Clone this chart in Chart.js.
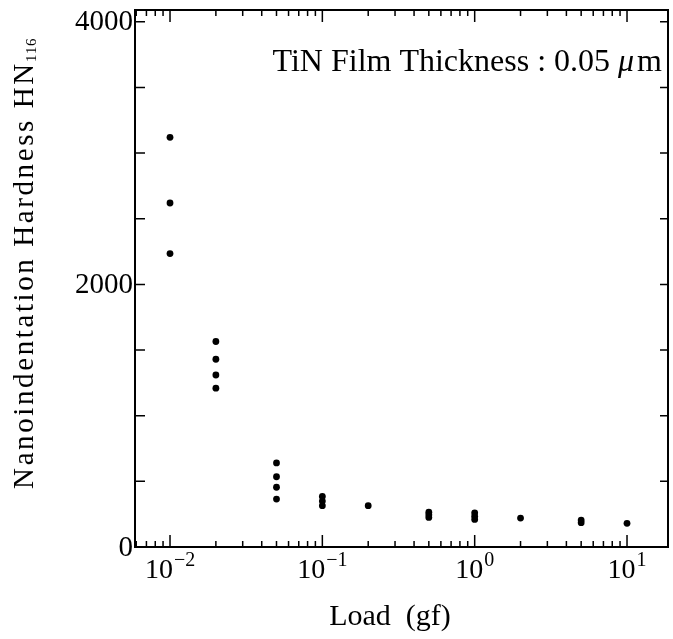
<!DOCTYPE html>
<html>
<head>
<meta charset="utf-8">
<script src="https://cdn.jsdelivr.net/npm/chart.js@4/dist/chart.umd.min.js"></script>
<style>
  html, body { margin: 0; padding: 0; background: #fff; }
</style>
</head>
<body>
<canvas id="myChart" width="673" height="639"></canvas>
<script>
// load (gf) and measured hardness, one entry per dot
const loads = [
  0.01, 0.01, 0.01,
  0.02, 0.02, 0.02, 0.02,
  0.05, 0.05, 0.05, 0.05,
  0.1, 0.1, 0.1,
  0.2,
  0.5, 0.5, 0.5,
  1, 1, 1,
  2,
  5, 5,
  10,
];
const hardness = [
  3120, 2620, 2235,
  1565, 1430, 1310, 1210,
  640, 535, 455, 365,
  385, 350, 315,
  315,
  265, 245, 225,
  260, 235, 210,
  220,
  205, 185,
  180,
];

const yTickLabels = [0, 2000, 4000];
const yMinorStep = 500;
const xDecades = [-2, -1, 0, 1];

const titleMain = "TiN Film Thickness : 0.05 ";
const titleMu = "\u03bc";
const titleUnit = "m";
const xTitle = "Load  (gf)";
const yTitle = "Nanoindentation Hardness HN";
const yTitleSub = "116";

const serif = '"Liberation Serif", "Times New Roman", serif';

// draws a string char by char with extra spacing, returns the end x
function spacedText(ctx, text, x, y, gap) {
  for (const ch of text) {
    ctx.fillText(ch, x, y);
    x += ctx.measureText(ch).width + gap;
  }
  return x;
}

function spacedWidth(ctx, text, gap) {
  let w = 0;
  for (const ch of text) w += ctx.measureText(ch).width + gap;
  return w;
}

const axesDecor = {
  id: "axesDecor",
  afterDraw(chart) {
    const { ctx, chartArea: a, scales: { x, y } } = chart;
    ctx.save();
    ctx.strokeStyle = "#000";
    ctx.fillStyle = "#000";

    // frame
    ctx.lineWidth = 2;
    ctx.strokeRect(a.left, a.top, a.right - a.left, a.bottom - a.top);

    // tick marks, pointing inward
    ctx.lineWidth = 1.5;
    ctx.beginPath();
    for (let d = -3; d <= 2; d++) {
      for (let m = 1; m <= 9; m++) {
        const v = m * Math.pow(10, d);
        if (v < x.min || v > x.max) continue;
        const px = x.getPixelForValue(v);
        const len = m === 1 ? 12 : 6;
        ctx.moveTo(px, a.bottom);
        ctx.lineTo(px, a.bottom - len);
        ctx.moveTo(px, a.top);
        ctx.lineTo(px, a.top + len);
      }
    }
    for (let v = 0; v <= y.max; v += yMinorStep) {
      const py = y.getPixelForValue(v);
      ctx.moveTo(a.left, py);
      ctx.lineTo(a.left + 10, py);
      ctx.moveTo(a.right, py);
      ctx.lineTo(a.right - 8, py);
    }
    ctx.stroke();

    // y tick labels
    ctx.font = "29px " + serif;
    ctx.textAlign = "right";
    ctx.textBaseline = "middle";
    yTickLabels.forEach((v) => {
      ctx.fillText(String(v), a.left - 2, y.getPixelForValue(v) + 1);
    });

    // x tick labels 10^n
    ctx.textAlign = "left";
    ctx.textBaseline = "alphabetic";
    xDecades.forEach((n) => {
      const px = x.getPixelForValue(Math.pow(10, n));
      const exp = n < 0 ? "\u2212" + Math.abs(n) : String(n);
      ctx.font = "28px " + serif;
      const wb = ctx.measureText("10").width;
      ctx.font = "20px " + serif;
      const we = ctx.measureText(exp).width;
      const left = px - (wb + we + 1) / 2;
      ctx.font = "28px " + serif;
      ctx.fillText("10", left, 578);
      ctx.font = "20px " + serif;
      ctx.fillText(exp, left + wb + 1, 566);
    });

    // x title
    ctx.font = "30px " + serif;
    ctx.textAlign = "center";
    ctx.fillText(xTitle, 390, 625);

    // y title, rotated and a bit letter-spaced like the print
    ctx.save();
    ctx.translate(33, 263);
    ctx.rotate(-Math.PI / 2);
    ctx.textAlign = "left";
    ctx.font = "29px " + serif;
    const wm = spacedWidth(ctx, yTitle, 2.6);
    ctx.font = "15px " + serif;
    const ws = spacedWidth(ctx, yTitleSub, 0.5);
    const start = -(wm + ws) / 2;
    ctx.font = "29px " + serif;
    const end = spacedText(ctx, yTitle, start, 0, 2.6);
    ctx.font = "15px " + serif;
    spacedText(ctx, yTitleSub, end - 1, 3, 0.5);
    ctx.restore();

    // annotation
    ctx.textAlign = "left";
    ctx.font = "32px " + serif;
    const w1 = ctx.measureText(titleMain).width;
    ctx.font = "italic 32px " + serif;
    const w2 = ctx.measureText(titleMu).width;
    ctx.font = "32px " + serif;
    const w3 = ctx.measureText(titleUnit).width;
    const tx = 662 - (w1 + w2 + 3 + w3);
    ctx.fillText(titleMain, tx, 71);
    ctx.font = "italic 32px " + serif;
    ctx.fillText(titleMu, tx + w1, 71);
    ctx.font = "32px " + serif;
    ctx.fillText(titleUnit, tx + w1 + w2 + 3, 71);

    ctx.restore();
  },
};

const ctx = document.getElementById("myChart");
const chart = new Chart(ctx, {
  type: "scatter",
  data: {
    datasets: [
      {
        label: "HN116",
        data: loads.map((l, i) => ({ x: l, y: hardness[i] })),
        pointRadius: 3.4,
        pointBackgroundColor: "#000",
        pointBorderWidth: 0,
      },
    ],
  },
  options: {
    responsive: false,
    animation: false,
    devicePixelRatio: 1,
    layout: { padding: { top: 10, right: 5, left: 0, bottom: 0 } },
    plugins: {
      legend: { display: false },
      tooltip: { enabled: false },
    },
    scales: {
      x: {
        type: "logarithmic",
        min: 0.00589,
        max: 18.58,
        ticks: { display: false },
        grid: { display: false },
        border: { display: false },
        afterFit(scale) {
          scale.height = 92;
        },
      },
      y: {
        min: 0,
        max: 4090,
        ticks: { display: false },
        grid: { display: false },
        border: { display: false },
        afterFit(scale) {
          scale.width = 135;
        },
      },
    },
  },
  plugins: [axesDecor],
});
</script>
</body>
</html>
